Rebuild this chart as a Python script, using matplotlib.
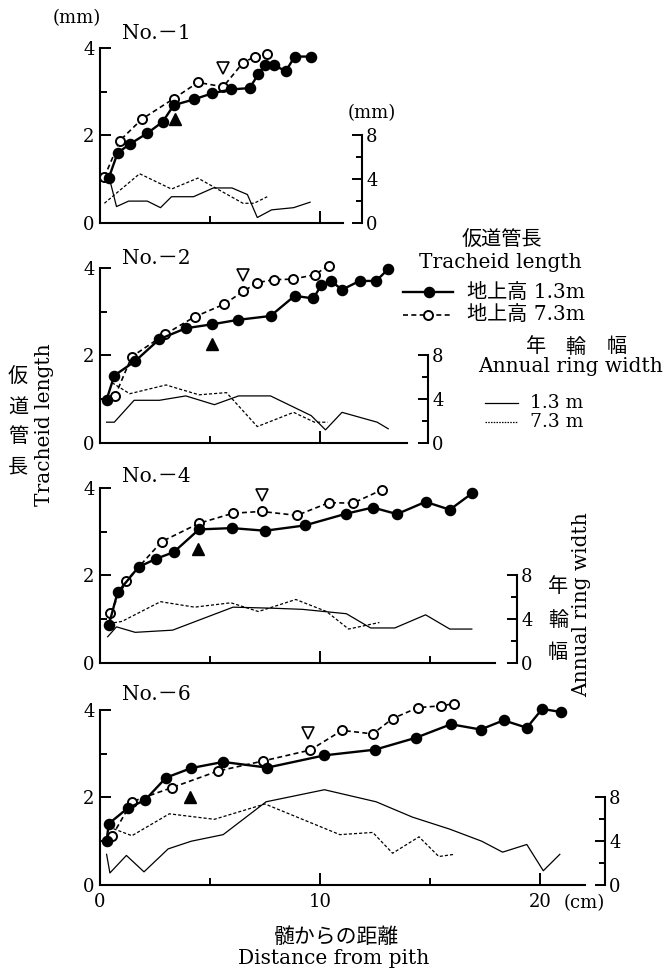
import matplotlib
matplotlib.use("Agg")
import matplotlib.pyplot as plt

plt.rcParams['font.family'] = ['DejaVu Serif', 'Noto Sans CJK JP']
plt.rcParams['font.size'] = 12

# ---- data (distance from pith in cm) ----
# No.-1
n1_d13 = [0.4, 0.8, 1.35, 2.15, 2.85, 3.35, 4.25, 5.1, 5.95, 6.8, 7.2, 7.5, 7.9, 8.45, 8.85, 9.6]
n1_l13 = [1.03, 1.60, 1.80, 2.05, 2.31, 2.69, 2.82, 2.96, 3.05, 3.08, 3.40, 3.60, 3.60, 3.47, 3.80, 3.80]
n1_d73 = [0.2, 0.9, 1.9, 3.35, 4.45, 5.6, 6.5, 7.05, 7.6]
n1_l73 = [1.05, 1.88, 2.37, 2.84, 3.21, 3.11, 3.66, 3.80, 3.85]
n1_rd13 = [0.4, 0.75, 1.3, 2.15, 2.75, 3.25, 4.25, 5.15, 6.0, 6.7, 7.15, 7.8, 8.8, 9.55]
n1_rw13 = [4.3, 1.5, 2.0, 2.0, 1.4, 2.4, 2.4, 3.2, 3.2, 2.6, 0.5, 1.2, 1.4, 1.9]
n1_rd73 = [0.2, 1.8, 3.25, 4.45, 6.5, 7.0, 7.6]
n1_rw73 = [1.8, 4.5, 3.1, 4.1, 1.8, 1.8, 2.4]
n1_tri13 = (3.4, 2.37)
n1_tri73 = (5.6, 3.53)

# No.-2
n2_d13 = [0.3, 0.65, 1.6, 2.7, 3.9, 5.1, 6.25, 7.75, 8.85, 9.7, 10.05, 10.5, 11.0, 11.8, 12.55, 13.1]
n2_l13 = [0.99, 1.54, 1.87, 2.37, 2.62, 2.71, 2.81, 2.90, 3.36, 3.30, 3.60, 3.70, 3.50, 3.70, 3.70, 3.97]
n2_d73 = [0.68, 1.44, 2.95, 4.3, 5.65, 6.5, 7.15, 7.9, 8.75, 9.75, 10.4]
n2_l73 = [1.07, 1.97, 2.48, 2.88, 3.17, 3.46, 3.66, 3.73, 3.74, 3.84, 4.05]
n2_rd13 = [0.3, 0.65, 1.55, 2.7, 3.9, 5.2, 6.3, 7.75, 9.6, 10.25, 11.0, 12.6, 13.1]
n2_rw13 = [1.9, 1.9, 3.9, 3.9, 4.3, 3.5, 4.3, 4.3, 2.5, 1.2, 2.8, 1.9, 1.3]
n2_rd73 = [0.55, 1.35, 3.0, 4.5, 5.75, 7.15, 8.8, 9.75, 10.35]
n2_rw73 = [5.5, 4.5, 5.3, 4.4, 4.6, 1.5, 2.8, 1.9, 1.9]
n2_tri13 = (5.1, 2.25)
n2_tri73 = (6.5, 3.84)

# No.-4
n4_d13 = [0.4, 0.8, 1.75, 2.55, 3.35, 4.5, 6.0, 7.5, 9.3, 11.2, 12.4, 13.5, 14.8, 15.9, 16.9]
n4_l13 = [0.87, 1.61, 2.19, 2.38, 2.53, 3.05, 3.08, 3.02, 3.14, 3.41, 3.55, 3.40, 3.68, 3.50, 3.87]
n4_d73 = [0.45, 1.2, 2.8, 4.5, 6.05, 7.35, 8.95, 10.4, 11.5, 12.8]
n4_l73 = [1.14, 1.88, 2.77, 3.19, 3.42, 3.46, 3.37, 3.66, 3.65, 3.95]
n4_rd13 = [0.35, 0.75, 1.6, 3.3, 6.05, 7.9, 9.2, 11.2, 12.3, 13.4, 14.8, 15.9, 16.9]
n4_rw13 = [2.4, 3.3, 2.8, 3.0, 5.1, 5.0, 4.9, 4.5, 3.2, 3.2, 4.4, 3.1, 3.1]
n4_rd73 = [0.4, 1.0, 2.75, 4.3, 5.95, 7.2, 8.9, 10.3, 11.3, 12.7]
n4_rw73 = [3.6, 3.8, 5.6, 5.1, 5.5, 4.7, 5.8, 4.7, 3.1, 3.7]
n4_tri13 = (4.47, 2.60)
n4_tri73 = (7.35, 3.84)

# No.-6
n6_d13 = [0.3, 0.4, 1.25, 2.05, 3.0, 4.15, 5.6, 7.6, 10.2, 12.5, 14.35, 15.95, 17.3, 18.35, 19.4, 20.1, 20.95]
n6_l13 = [1.01, 1.40, 1.75, 1.94, 2.45, 2.67, 2.81, 2.68, 2.96, 3.09, 3.36, 3.67, 3.55, 3.76, 3.59, 4.02, 3.95]
n6_d73 = [0.55, 1.45, 3.25, 5.35, 7.4, 9.55, 11.0, 12.4, 13.3, 14.45, 15.5, 16.1]
n6_l73 = [1.12, 1.90, 2.22, 2.60, 2.83, 3.08, 3.53, 3.45, 3.80, 4.05, 4.09, 4.14]
n6_rd13 = [0.3, 0.45, 1.2, 2.0, 3.1, 4.15, 5.6, 7.55, 10.2, 12.55, 14.2, 15.9, 17.35, 18.3, 19.4, 20.15, 20.9]
n6_rw13 = [2.8, 1.1, 2.7, 1.2, 3.3, 4.0, 4.6, 7.6, 8.7, 7.6, 6.2, 5.1, 4.0, 3.0, 3.7, 1.3, 2.8]
n6_rd73 = [0.4, 1.45, 3.15, 5.2, 7.5, 10.9, 12.4, 13.3, 14.5, 15.4, 16.1]
n6_rw73 = [5.3, 4.5, 6.5, 6.0, 7.4, 4.6, 4.8, 2.9, 4.4, 2.6, 2.8]
n6_tri13 = (4.1, 2.01)
n6_tri73 = (9.45, 3.47)

panel_names = ['No.－1', 'No.－2', 'No.－4', 'No.－6']

# ---- layout (pixels) ----
W, H = 669, 969
PX_CM = 22.0
PX_MM = 43.8
TOP = 4.25
LEFT = 100

fig = plt.figure(figsize=(W / 100, H / 100), dpi=100)


def panel(y0, spine_px, xend_px, d13, l13, d73, l73, rd13, rw13, rd73, rw73,
          tri13, tri73, last=False):
    w = spine_px - LEFT
    xmax = w / PX_CM
    ax = fig.add_axes([LEFT / W, 1 - y0 / H, w / W, TOP * PX_MM / H])
    rx = ax.twinx()
    ax.set_zorder(rx.get_zorder() + 1)
    ax.patch.set_visible(False)

    # ring width
    rx.plot(rd13, rw13, color='k', lw=0.9)
    rx.plot(rd73, rw73, color='k', lw=0.9, ls=(0, (2.5, 1.6)))

    # tracheid length
    ax.plot(d73, l73, color='k', lw=1.2, ls=(0, (3, 2)), marker='o', ms=6.5,
            mfc='white', mec='k', mew=1.4, clip_on=False, zorder=3)
    ax.plot(d13, l13, color='k', lw=1.7, marker='o', ms=7.3, mfc='k', mec='k',
            clip_on=False, zorder=4)
    ax.plot([tri13[0]], [tri13[1]], marker='^', ms=9, color='k', ls='none')
    ax.plot([tri73[0]], [tri73[1]], marker='v', ms=9, mfc='white', mec='k',
            mew=1.2, ls='none')

    for s in ['top', 'right']:
        ax.spines[s].set_visible(False)
    for s in ['top', 'left', 'bottom']:
        rx.spines[s].set_visible(False)
    ax.spines['left'].set_bounds(0, 4)
    ax.spines['bottom'].set_bounds(0, (xend_px - LEFT) / PX_CM)
    rx.spines['right'].set_bounds(0, 8)
    for sp in [ax.spines['left'], ax.spines['bottom'], rx.spines['right']]:
        sp.set_linewidth(1.5)

    ax.set_yticks([0, 2, 4])
    ax.set_yticks([1, 3], minor=True)
    ax.set_xticks([t for t in [0, 10, 20] if t < xmax])
    ax.set_xticks([t for t in [5, 15] if t < xmax], minor=True)
    ax.tick_params(which='both', direction='in', width=1.4, labelsize=13)
    ax.tick_params(axis='y', which='major', length=8, pad=4)
    ax.tick_params(axis='y', which='minor', length=5)
    ax.tick_params(axis='x', which='major', length=9, pad=6)
    ax.tick_params(axis='x', which='minor', length=5)
    ax.tick_params(axis='x', labelbottom=last)

    rx.set_yticks([0, 4, 8])
    rx.set_yticks([2, 6], minor=True)
    rx.tick_params(which='both', direction='in', width=1.4, labelsize=13, pad=3)
    rx.tick_params(which='major', length=7)
    rx.tick_params(which='minor', length=4)

    ax.set_xlim(0, xmax)
    ax.set_ylim(0, TOP)
    rx.set_ylim(0, TOP * 4)
    return ax, rx


panel(223, 362, 343, n1_d13, n1_l13, n1_d73, n1_l73, n1_rd13, n1_rw13,
      n1_rd73, n1_rw73, n1_tri13, n1_tri73)
panel(443, 428, 407, n2_d13, n2_l13, n2_d73, n2_l73, n2_rd13, n2_rw13,
      n2_rd73, n2_rw73, n2_tri13, n2_tri73)
panel(663, 517, 495, n4_d13, n4_l13, n4_d73, n4_l73, n4_rd13, n4_rw13,
      n4_rd73, n4_rw73, n4_tri13, n4_tri73)
panel(885, 605, 585, n6_d13, n6_l13, n6_d73, n6_l73, n6_rd13, n6_rw13,
      n6_rd73, n6_rw73, n6_tri13, n6_tri73, last=True)

# ---- overlay for free text and legend (pixel coordinates) ----
lax = fig.add_axes([0, 0, 1, 1])
lax.set_xlim(0, W)
lax.set_ylim(H, 0)
lax.axis('off')

fs = 14.5
cj = 14.5
lax.text(77, 18, '(mm)', ha='center', va='center', fontsize=13)
lax.text(372, 113, '(mm)', ha='center', va='center', fontsize=13)
for name, yy in zip(panel_names, [33, 258, 476, 695]):
    lax.text(122, yy, name, ha='left', va='center', fontsize=fs)

# left y label
for ch, yy in zip('仮道管長', [377, 407, 437, 467]):
    lax.text(18, yy, ch, ha='center', va='center', fontsize=cj)
lax.text(45, 506, 'Tracheid length', rotation=90, ha='center', va='bottom', fontsize=fs)

# right y label
for ch, yy in zip('年輪幅', [587, 620, 652]):
    lax.text(558, yy, ch, ha='center', va='center', fontsize=cj)
lax.text(582, 697, 'Annual ring width', rotation=90, ha='center', va='bottom', fontsize=fs)

# x label
lax.text(584, 903, '(cm)', ha='center', va='center', fontsize=13)
lax.text(336, 937, '髄からの距離', ha='center', va='center', fontsize=15)
lax.text(334, 958, 'Distance from pith', ha='center', va='center', fontsize=fs)

# legend
lax.text(502, 240, '仮道管長', ha='center', va='center', fontsize=cj)
lax.text(500, 262, 'Tracheid length', ha='center', va='center', fontsize=fs)
lax.plot([403, 453], [292, 292], color='k', lw=1.7, clip_on=False)
lax.plot([429], [292], marker='o', ms=7.3, color='k', clip_on=False)
lax.text(467, 292, '地上高 1.3m', ha='left', va='center', fontsize=fs)
lax.plot([403, 453], [315, 315], color='k', lw=1.2, ls=(0, (3, 2)), clip_on=False)
lax.plot([428], [315], marker='o', ms=6.5, mfc='white', mec='k', mew=1.4, clip_on=False)
lax.text(467, 315, '地上高 7.3m', ha='left', va='center', fontsize=fs)
for ch, xx in zip('年輪幅', [536, 575, 617]):
    lax.text(xx, 347, ch, ha='center', va='center', fontsize=cj)
lax.text(570, 367, 'Annual ring width', ha='center', va='center', fontsize=fs)
lax.plot([485, 518], [403, 403], color='k', lw=0.9, clip_on=False)
lax.text(530, 403, '1.3 m', ha='left', va='center', fontsize=13.5)
lax.plot([485, 518], [422, 422], color='k', lw=0.9, ls=(0, (1.2, 1.0)), clip_on=False)
lax.text(530, 422, '7.3 m', ha='left', va='center', fontsize=13.5)

fig.savefig('out.png', dpi=100)
